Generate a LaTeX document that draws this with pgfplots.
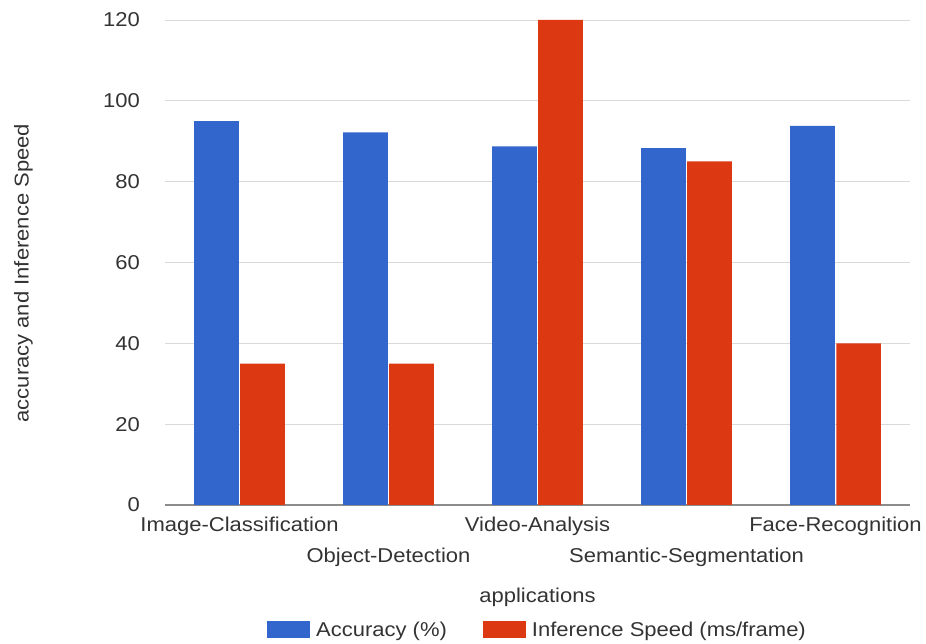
\documentclass[border=0pt]{standalone}
\usepackage{fontspec}
\setmainfont{Liberation Sans}[FakeStretch=1.1]
\usepackage{pgfplots}
\pgfplotsset{compat=1.18}
\definecolor{gblue}{HTML}{3366CC}
\definecolor{gred}{HTML}{DC3912}
\definecolor{txt}{HTML}{333333}
\begin{document}
\begin{tikzpicture}[x=1pt,y=1pt]
\path (0,0) rectangle (926,644);
\begin{axis}[
  at={(165pt,139pt)}, anchor=south west,
  scale only axis, width=745pt, height=485pt,
  xmin=-0.5, xmax=4.5, ymin=0, ymax=120,
  ytick={0,20,...,120},
  xtick={0,...,4},
  xticklabels={{\strut Image-Classification},{\strut\\\strut Object-Detection},{\strut Video-Analysis},{\strut\\\strut Semantic-Segmentation},{\strut Face-Recognition}},
  /pgf/number format/assume math mode=true,
  font=\fontsize{20}{31}\selectfont,
  axis line style={draw=none},
  tick style={draw=none},
  ymajorgrids, grid style={color=black!15, line width=0.8pt},
  extra y ticks={0}, extra y tick labels={},
  extra y tick style={grid style={color=black!45, line width=1.2pt}},
  yticklabel style={anchor=east, inner sep=0pt, xshift=-25pt, text=txt},
  xticklabel style={anchor=north, align=center, inner sep=0pt, yshift=-5pt, text=txt},
  xlabel={applications},
  ylabel={accuracy and Inference Speed},
  xlabel style={at={(axis description cs:0.5,-0.19)}, anchor=center, text=txt},
  ylabel style={at={(axis description cs:-0.19,0.478)}, anchor=center, rotate=0, text=txt},
  legend columns=2,
  legend style={at={(axis description cs:0.5,-0.258)}, anchor=center, draw=none, fill=none,
    font=\fontsize{20}{22}\selectfont, text=txt,
    /tikz/every even column/.append style={column sep=34pt},
    /tikz/every odd column/.append style={column sep=4pt}},
  legend image code/.code={\fill[#1] (0pt,-8pt) rectangle (43pt,9pt);},
]
\addplot[ybar, bar width=0.30, bar shift=-0.155, fill=gblue, draw=none]
  coordinates {(0,95) (1,92.2) (2,88.7) (3,88.3) (4,93.8)};
\addlegendentry{Accuracy (\%)}
\addplot[ybar, bar width=0.30, bar shift=0.155, fill=gred, draw=none]
  coordinates {(0,35) (1,35) (2,120) (3,85) (4,40)};
\addlegendentry{Inference Speed (ms/frame)}
\end{axis}
\end{tikzpicture}
\end{document}
